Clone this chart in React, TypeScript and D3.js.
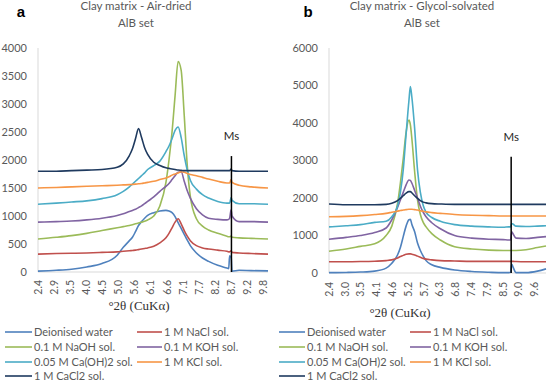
import React from "react";
import * as d3 from "d3";

// series shared by both panels
const seriesNames = [
  "Deionised water",
  "1 M NaCl sol.",
  "0.1 M NaOH sol.",
  "0.1 M KOH sol.",
  "0.05 M Ca(OH)2 sol.",
  "1 M KCl sol.",
  "1 M CaCl2 sol.",
];
const seriesColors = ["#4F81BD", "#C0504D", "#9BBB59", "#8064A2", "#4BACC6", "#F79646", "#1F3A5F"];

// panel a - air-dried
const thetaA = [2.4, 3.0, 3.5, 4.0, 4.5, 5.0, 5.2, 5.4, 5.5, 5.6, 5.7, 5.8, 5.9, 6.0, 6.2, 6.4, 6.6, 6.7, 6.8, 6.9, 7.0, 7.1, 7.2, 7.3, 7.4, 7.6, 7.8, 8.0, 8.3, 8.6, 8.66, 8.69, 8.74, 8.77, 9.0, 9.4, 9.95];
const waterA = [15, 30, 50, 90, 150, 300, 440, 560, 620, 720, 830, 900, 960, 1010, 1060, 1090, 1100, 1090, 1060, 990, 880, 780, 670, 570, 470, 340, 250, 190, 120, 70, 60, 290, 260, 15, 30, 25, 20];
const naclA = [320, 330, 335, 340, 350, 360, 370, 380, 385, 390, 400, 410, 420, 430, 460, 520, 610, 690, 790, 890, 950, 860, 740, 640, 560, 470, 430, 410, 390, 370, 360, 360, 380, 350, 340, 330, 320];
const naohA = [590, 620, 650, 690, 740, 790, 810, 830, 845, 860, 875, 890, 905, 930, 1000, 1180, 1600, 2000, 2500, 3150, 3760, 3600, 2800, 1900, 1350, 950, 820, 750, 690, 640, 630, 630, 640, 620, 610, 600, 590];
const kohA = [890, 900, 910, 930, 960, 1010, 1040, 1080, 1100, 1120, 1150, 1180, 1220, 1260, 1340, 1440, 1530, 1580, 1650, 1720, 1780, 1790, 1620, 1450, 1320, 1130, 1020, 960, 940, 930, 940, 960, 1110, 1000, 900, 900, 890];
const caohA = [1210, 1230, 1250, 1270, 1310, 1380, 1440, 1520, 1570, 1620, 1670, 1720, 1770, 1830, 1900, 1980, 2150, 2250, 2380, 2530, 2590, 2400, 2080, 1820, 1640, 1480, 1380, 1320, 1260, 1230, 1230, 1230, 1330, 1280, 1220, 1220, 1210];
const kclA = [1500, 1510, 1520, 1530, 1540, 1550, 1555, 1560, 1565, 1570, 1575, 1580, 1590, 1600, 1620, 1650, 1680, 1700, 1730, 1750, 1770, 1790, 1780, 1760, 1740, 1720, 1690, 1660, 1620, 1590, 1590, 1590, 1650, 1600, 1550, 1520, 1500];
const cacl2A = [1800, 1800, 1810, 1820, 1830, 1870, 1930, 2080, 2200, 2380, 2560, 2400, 2220, 2100, 1960, 1900, 1860, 1850, 1840, 1830, 1820, 1815, 1810, 1810, 1810, 1810, 1810, 1810, 1810, 1810, 1810, 1810, 1840, 1810, 1800, 1800, 1800];
const xLabelsA = ["2.4", "2.9", "3.5", "4.0", "4.5", "5.0", "5.6", "6.1", "6.6", "7.1", "7.7", "8.2", "8.7", "9.2", "9.8"];
const msA = { theta: 8.75, top: 2070 };

// panel b - glycol-solvated
const thetaB = [2.4, 3.0, 3.5, 4.0, 4.4, 4.6, 4.8, 4.9, 5.0, 5.1, 5.2, 5.25, 5.3, 5.4, 5.5, 5.6, 5.7, 5.8, 6.0, 6.3, 6.8, 7.4, 8.0, 8.5, 8.7, 8.76, 8.8, 8.85, 8.95, 9.3, 9.7, 10.0];
const waterB = [10, 15, 25, 50, 130, 260, 480, 680, 970, 1250, 1420, 1430, 1300, 1100, 800, 600, 450, 330, 220, 150, 80, 40, 20, 10, 10, 20, 230, 150, 10, 10, 50, 110];
const naclB = [300, 300, 305, 315, 330, 350, 400, 440, 470, 500, 510, 510, 500, 480, 450, 420, 390, 370, 350, 330, 320, 310, 310, 310, 310, 310, 310, 310, 305, 300, 300, 300];
const naohB = [580, 640, 710, 780, 1000, 1250, 1850, 2400, 3050, 3750, 4080, 3950, 3600, 2700, 1950, 1560, 1350, 1230, 1050, 880, 700, 640, 610, 600, 600, 600, 600, 600, 600, 620, 680, 720];
const kohB = [900, 950, 1000, 1080, 1200, 1420, 1750, 1950, 2150, 2350, 2480, 2470, 2400, 2200, 2000, 1780, 1620, 1500, 1340, 1180, 1000, 930, 900, 890, 880, 880, 1100, 1040, 930, 920, 950, 970];
const caohB = [1230, 1260, 1290, 1350, 1380, 1500, 1780, 2150, 2750, 3700, 4600, 4970, 4700, 3850, 2750, 2150, 1800, 1620, 1480, 1380, 1290, 1250, 1230, 1220, 1230, 1230, 1320, 1300, 1250, 1240, 1250, 1260];
const kclB = [1500, 1510, 1530, 1560, 1590, 1620, 1650, 1665, 1680, 1690, 1700, 1700, 1700, 1690, 1680, 1660, 1645, 1630, 1610, 1590, 1560, 1540, 1530, 1520, 1520, 1520, 1520, 1520, 1520, 1520, 1520, 1520];
const cacl2B = [1840, 1820, 1820, 1820, 1830, 1860, 1930, 1990, 2060, 2130, 2170, 2170, 2140, 2060, 1990, 1930, 1890, 1870, 1850, 1840, 1830, 1830, 1830, 1830, 1830, 1830, 1830, 1830, 1830, 1830, 1830, 1830];
const xLabelsB = ["2.4", "3.0", "3.5", "4.1", "4.6", "5.2", "5.7", "6.3", "6.8", "7.4", "7.9", "8.5", "9.0", "9.6"];
const msB = { theta: 8.78, top: 3100 };

const sans = "Lato, 'Open Sans', sans-serif";
const grey = "#595959";

export default function App() {
  const ref = React.useRef<SVGSVGElement>(null);
  React.useEffect(() => {
    const width = 550;
    const height = 383;
    const svg = d3.select(ref.current);
    svg.selectAll("*").remove();
    svg.attr("width", width).attr("height", height).attr("viewBox", [0, 0, width, height]);
    svg.append("rect").attr("width", width).attr("height", height).attr("fill", "#fff");

    const panels = [
      {
        letter: "a", letterX: 21, title: "Clay matrix - Air-dried", titleX: 136,
        theta: thetaA, series: [waterA, naclA, naohA, kohA, caohA, kclA, cacl2A],
        xDomain: [2.4, 9.95], xRange: [38, 268], yMax: 4000, yStep: 500, yRange: [272, 48],
        xLabels: xLabelsA, labelTop: 280, ms: msA, axisTitle: [139, 310],
        legendCols: [[5, 32, 34], [137, 162, 164]],
      },
      {
        letter: "b", letterX: 308, title: "Clay matrix - Glycol-solvated", titleX: 422,
        theta: thetaB, series: [waterB, naclB, naohB, kohB, caohB, kclB, cacl2B],
        xDomain: [2.4, 10.0], xRange: [329, 546], yMax: 6000, yStep: 1000, yRange: [273, 48],
        xLabels: xLabelsB, labelTop: 282, ms: msB, axisTitle: [400, 317],
        legendCols: [[279, 305, 307], [410, 431, 433]],
      },
    ];

    for (const p of panels) {
      const x = d3.scaleLinear().domain(p.xDomain).range(p.xRange);
      const y = d3.scaleLinear().domain([0, p.yMax]).range(p.yRange);
      const g = svg.append("g");

      // headings
      g.append("text").attr("x", p.letterX).attr("y", 17).attr("text-anchor", "middle")
        .attr("font-family", "'Liberation Sans', Arial, sans-serif").attr("font-weight", "bold")
        .attr("font-size", 15).attr("fill", "#000").text(p.letter);
      g.append("text").attr("x", p.titleX).attr("y", 10).attr("text-anchor", "middle")
        .attr("font-family", sans).attr("font-size", 11.5).attr("fill", grey).text(p.title);
      g.append("text").attr("x", p.titleX).attr("y", 27).attr("text-anchor", "middle")
        .attr("font-family", sans).attr("font-size", 11.5).attr("fill", grey).text("AlB set");

      // axes lines
      g.append("line").attr("x1", p.xRange[0]).attr("x2", p.xRange[0])
        .attr("y1", y(p.yMax)).attr("y2", y(0)).attr("stroke", "#d9d9d9");
      g.append("line").attr("x1", p.xRange[0]).attr("x2", p.xRange[1])
        .attr("y1", y(0)).attr("y2", y(0)).attr("stroke", "#d9d9d9");

      // y tick labels
      g.append("g").selectAll("text")
        .data(d3.range(0, p.yMax + 1, p.yStep))
        .join("text")
        .attr("x", p.xRange[0] - 11)
        .attr("y", (d) => y(d))
        .attr("dy", "0.35em")
        .attr("text-anchor", "end")
        .attr("font-family", sans).attr("font-size", 11).attr("fill", grey)
        .text((d) => d);

      // x tick labels (category style, evenly spaced)
      const step = (p.xLabels.length > 1)
        ? (+p.xLabels[p.xLabels.length - 1] - p.xDomain[0]) / (p.xLabels.length - 1) : 1;
      g.append("g").selectAll("text")
        .data(p.xLabels)
        .join("text")
        .attr("transform", (d, i) => `translate(${x(p.xDomain[0] + i * step)},${p.labelTop}) rotate(-90)`)
        .attr("dy", "0.35em")
        .attr("text-anchor", "end")
        .attr("font-family", sans).attr("font-size", 10.5).attr("fill", grey)
        .text((d) => d);

      // axis title
      g.append("text").attr("x", p.axisTitle[0]).attr("y", p.axisTitle[1]).attr("text-anchor", "middle")
        .attr("font-family", "'Liberation Serif', 'Times New Roman', serif").attr("font-size", 13)
        .attr("fill", "#333").text("°2θ (CuKα)");

      // series lines
      const line = d3.line<number>()
        .x((d, i) => x(p.theta[i]))
        .y((d) => y(d))
        .curve(d3.curveMonotoneX);
      g.append("g").selectAll("path")
        .data(p.series)
        .join("path")
        .attr("fill", "none")
        .attr("stroke", (d, i) => seriesColors[i])
        .attr("stroke-width", 1.6)
        .attr("stroke-linejoin", "round")
        .attr("d", (d) => line(d));

      // Ms marker
      g.append("line").attr("x1", x(p.ms.theta)).attr("x2", x(p.ms.theta))
        .attr("y1", y(0)).attr("y2", y(p.ms.top)).attr("stroke", "#000").attr("stroke-width", 1.5);
      g.append("text").attr("x", x(p.ms.theta)).attr("y", y(p.ms.top) - 16).attr("text-anchor", "middle")
        .attr("font-family", sans).attr("font-size", 11.5).attr("fill", "#262626").text("Ms");

      // legend
      const rows = [332, 347, 362, 376];
      const leg = g.append("g").selectAll("g")
        .data(seriesNames)
        .join("g")
        .attr("transform", (d, i) => `translate(0,${rows[Math.floor(i / 2)]})`);
      leg.append("line")
        .attr("x1", (d, i) => p.legendCols[i % 2][0])
        .attr("x2", (d, i) => p.legendCols[i % 2][1])
        .attr("stroke", (d, i) => seriesColors[i])
        .attr("stroke-width", 1.6);
      leg.append("text")
        .attr("x", (d, i) => p.legendCols[i % 2][2])
        .attr("dy", "0.35em")
        .attr("font-family", sans).attr("font-size", 11).attr("fill", grey)
        .text((d) => d);
    }
  }, []);

  return <svg ref={ref} style={{ position: "absolute", left: 0, top: 0 }}></svg>;
}
